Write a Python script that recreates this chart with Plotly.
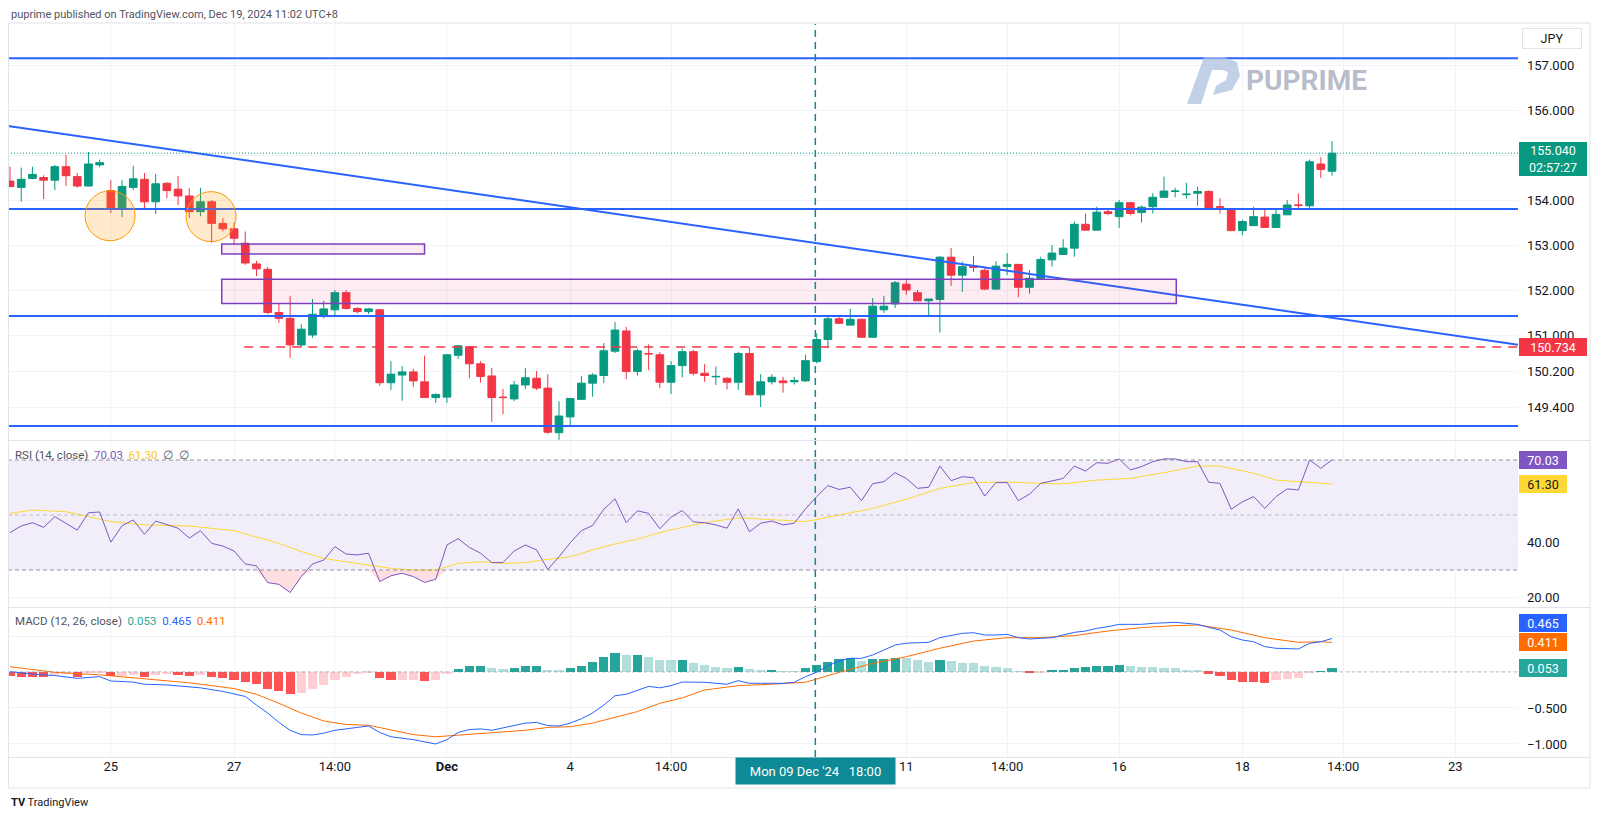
import plotly.graph_objects as go

# ---------------- data ----------------
opens = [154.42,154.28,154.48,154.50,154.44,154.74,154.52,154.31,154.78,154.21,
         153.80,154.28,154.46,153.96,154.37,154.24,154.09,153.74,153.96,153.48,
         153.36,153.04,152.58,152.46,151.50,151.37,150.78,151.00,151.44,151.56,
         151.94,151.59,151.52,151.56,149.94,150.11,150.18,149.96,149.61,149.62,
         150.55,150.74,150.36,150.09,149.62,149.58,149.89,150.04,149.82,148.83,
         149.18,149.57,149.93,150.10,150.64,151.09,150.19,150.59,150.56,149.95,
         150.32,150.63,150.15,150.07,150.04,149.95,150.59,149.67,149.96,149.98,
         149.96,149.98,150.41,150.90,151.36,151.22,151.35,150.95,151.56,151.69,
         152.13,151.94,151.76,151.79,152.73,152.33,152.53,152.44,152.02,152.52,
         152.57,152.06,152.26,152.67,152.79,152.93,153.46,153.33,153.74,153.63,
         153.94,153.72,153.85,154.06,154.19,154.12,154.15,154.19,153.85,153.78,
         153.32,153.43,153.62,153.39,153.67,153.89,153.87,154.80,154.64]
highs = [154.74,154.72,154.74,154.55,154.78,155.00,154.60,155.07,154.90,154.44,
         154.44,154.76,154.60,154.58,154.40,154.53,154.26,154.27,154.00,153.60,
         153.50,153.30,152.65,152.51,151.71,151.87,151.24,151.80,151.76,152.00,
         152.00,151.62,151.60,151.58,150.42,150.31,150.25,150.54,149.70,150.58,
         150.78,150.76,150.42,150.27,149.80,149.98,150.27,150.20,150.13,149.53,
         149.60,150.09,150.15,150.82,151.29,151.18,150.70,150.79,150.62,150.42,
         150.70,150.67,150.36,150.30,150.06,150.63,150.73,150.13,150.13,150.07,
         150.07,150.56,151.04,151.40,151.40,151.58,151.36,151.82,151.87,152.20,
         152.22,152.00,151.80,152.76,152.93,152.63,152.76,152.49,152.64,152.82,
         152.57,152.44,152.74,153.00,153.13,153.52,153.70,153.85,153.78,154.00,
         153.96,153.88,154.15,154.52,154.27,154.38,154.30,154.21,154.04,153.80,
         153.56,153.85,153.79,153.78,154.00,154.15,154.90,154.95,155.31]
lows = [154.28,153.96,154.46,154.02,154.22,154.31,154.27,154.31,154.73,153.71,
        153.62,154.22,153.82,153.69,154.04,153.89,153.60,153.64,153.05,153.30,
        153.00,152.56,152.31,151.46,151.27,150.49,150.73,150.94,151.37,151.44,
        151.56,151.48,151.47,149.87,149.78,149.54,149.85,149.61,149.49,149.49,
        150.47,150.04,149.94,149.07,149.24,149.53,149.80,149.78,148.80,148.67,
        149.00,149.55,149.63,149.93,150.60,150.02,150.10,150.22,149.82,149.69,
        150.06,150.10,149.96,149.89,149.79,149.78,149.67,149.40,149.90,149.72,
        149.90,149.96,150.37,150.72,151.24,151.22,150.94,150.94,151.49,151.60,
        151.89,151.75,151.44,151.05,152.09,151.96,152.40,152.00,152.00,152.33,
        151.84,151.92,152.26,152.52,152.79,152.74,153.33,153.33,153.66,153.38,
        153.66,153.50,153.70,154.06,154.06,154.03,153.87,153.78,153.70,153.31,
        153.22,153.43,153.39,153.39,153.67,153.80,153.78,154.49,154.54]
closes = [154.30,154.46,154.57,154.44,154.74,154.54,154.31,154.80,154.83,153.80,
          154.30,154.47,153.96,154.36,154.21,154.09,153.74,153.96,153.48,153.36,
          153.15,152.60,152.47,151.50,151.37,150.78,151.13,151.46,151.58,151.94,
          151.59,151.52,151.58,149.94,150.13,150.18,149.98,149.61,149.68,150.56,
          150.76,150.36,150.08,149.61,149.61,149.89,150.05,149.82,148.84,149.20,
          149.59,149.93,150.11,150.65,151.11,150.19,150.65,150.58,149.95,150.32,
          150.63,150.15,150.10,150.08,149.95,150.59,149.67,149.96,150.06,149.94,
          149.99,150.43,150.90,151.36,151.26,151.35,150.95,151.64,151.64,152.16,
          152.00,151.76,151.80,152.73,152.33,152.52,152.50,152.02,152.53,152.57,
          152.06,152.26,152.68,152.82,152.93,153.46,153.33,153.73,153.70,153.94,
          153.70,153.84,154.06,154.20,154.20,154.13,154.19,153.80,153.84,153.32,
          153.52,153.63,153.39,153.68,153.89,153.88,154.85,154.68,155.04]

rsi = [43.6,46.0,47.2,45.5,49.4,47.0,44.5,50.8,51.1,40.1,
       46.1,48.2,43.0,47.8,46.6,45.2,41.6,44.3,39.7,38.7,
       36.9,32.2,31.5,25.4,24.8,21.8,27.6,32.2,33.6,38.5,
       35.8,35.5,36.1,25.8,27.9,28.8,27.6,25.5,26.6,39.1,
       41.4,38.2,36.1,32.7,32.7,36.9,39.1,37.3,30.2,34.8,
       39.9,44.3,46.2,52.1,55.9,47.2,51.5,50.6,45.0,49.2,
       51.6,47.5,47.2,46.4,45.2,52.2,43.9,47.0,47.8,46.4,
       47.0,52.2,56.7,60.7,59.3,60.1,55.2,61.4,62.1,65.4,
       63.3,59.7,60.1,67.8,62.5,63.9,63.6,56.9,61.8,61.8,
       55.2,57.6,61.5,62.4,63.3,67.8,66.0,69.0,68.8,70.4,
       66.4,67.6,69.4,70.4,70.4,69.4,69.4,61.9,61.5,52.1,
       54.8,56.7,52.4,56.7,59.5,59.1,70.0,67.0,70.03]

rsi_ma_idx = [0,2,5,7,9,12,16,20,22,24,26,28,30,32,34,36,38,40,42,44,46,48,50,52,54,56,58,60,62,
              65,68,71,74,77,80,83,86,89,92,94,97,100,103,106,108,111,113,117,118]
rsi_ma_val = [50.6,51.8,51.2,49.4,47.6,46.4,46.0,44.3,42.1,39.7,36.7,34.2,33.0,31.8,30.6,30.0,30.0,
              32.4,33.0,32.4,32.7,33.9,34.8,37.3,39.5,41.2,43.6,45.5,47.2,
              49.0,48.2,47.6,50.0,52.4,55.7,59.7,61.8,62.0,61.5,61.3,62.7,63.3,65.4,67.8,67.8,65.2,62.7,61.5,61.30]

hist = [-0.05,-0.065,-0.066,-0.067,-0.04,-0.03,-0.065,-0.02,-0.018,-0.055,
        -0.054,-0.04,-0.065,-0.04,-0.03,-0.035,-0.055,-0.04,-0.065,-0.088,
        -0.11,-0.14,-0.17,-0.23,-0.26,-0.30,-0.29,-0.24,-0.18,-0.11,
        -0.065,-0.03,-0.01,-0.08,-0.11,-0.108,-0.105,-0.125,-0.11,-0.03,
        0.04,0.083,0.085,0.05,0.04,0.06,0.083,0.09,0.028,0.023,
        0.06,0.09,0.14,0.21,0.26,0.23,0.24,0.21,0.17,0.16,
        0.165,0.12,
        0.097,0.074,0.05,0.074,0.04,0.023,0.025,0.01,0.009,0.05,
        0.097,0.14,0.176,0.19,0.153,0.176,0.177,0.20,0.198,0.16,
        0.134,0.16,0.153,0.13,0.12,0.083,0.07,0.05,0.01,-0.01,
        -0.005,0.014,0.015,0.05,0.065,0.088,0.089,0.10,0.08,0.07,
        0.069,0.05,0.049,0.023,0.014,-0.023,-0.06,-0.116,-0.134,-0.135,
        -0.148,-0.116,-0.097,-0.088,-0.02,0.01,0.053]

macd_idx = [0,2,4,6,8,9,11,12,14,16,17,19,21,22,23,24,25,26,27,28,29,31,32,33,34,36,38,39,40,41,42,43,
            45,46,47,48,49,50,51,52,53,54,55,56,57,58,59,60,61] + list(range(62, 119))
macd_val = [0.005,-0.03,-0.05,-0.088,-0.065,-0.125,-0.14,-0.17,-0.18,-0.21,-0.22,-0.27,-0.34,-0.46,-0.57,
            -0.70,-0.81,-0.87,-0.875,-0.85,-0.81,-0.77,-0.75,-0.84,-0.90,-0.94,-1.0,-0.94,-0.84,-0.80,-0.79,-0.81,
            -0.74,-0.71,-0.70,-0.745,-0.75,-0.71,-0.65,-0.57,-0.46,-0.33,-0.31,-0.25,-0.20,-0.22,-0.19,-0.14,-0.14,
            -0.143,-0.157,-0.17,-0.12,-0.157,-0.157,-0.157,-0.157,-0.143,-0.065,-0.005,0.088,0.153,0.19,0.19,
            0.236,0.305,0.375,0.40,0.407,0.412,0.477,0.505,0.537,0.546,0.514,0.514,0.523,0.477,0.458,0.468,
            0.477,0.514,0.551,0.569,0.606,0.63,0.662,0.662,0.662,0.676,0.685,0.69,0.676,0.662,0.62,0.583,
            0.49,0.444,0.421,0.352,0.329,0.329,0.32,0.398,0.421,0.465]

signal_idx = [0,4,8,12,16,20,22,24,26,28,30,32,34,36,38,40,42,44,46,48,50,52,54,56,58,60,62,
              65,68,71,74,77,80,83,86,89,92,95,98,101,104,106,109,112,115,117,118]
signal_val = [0.074,-0.005,-0.04,-0.10,-0.15,-0.23,-0.31,-0.435,-0.57,-0.68,-0.73,-0.74,-0.81,-0.87,-0.90,
              -0.88,-0.85,-0.84,-0.81,-0.77,-0.76,-0.71,-0.63,-0.55,-0.435,-0.36,-0.25,
              -0.19,-0.17,-0.143,-0.005,0.12,0.213,0.33,0.43,0.477,0.477,0.505,0.57,0.616,0.644,0.653,
              0.583,0.477,0.412,0.421,0.411]

# horizontal levels, zones, trendline anchors, markers
h_levels = [157.15, 153.80, 151.42, 148.98]
support_dash = 150.734
support_dash_start = 20.9
last_price = 155.04
trend_idx = [0, 130]
trend_price = [155.64, 150.95]
zones = [(18.9, 37.0, 152.80, 153.02), (18.9, 104.1, 151.70, 152.24)]
circles = [(8.93, 153.65), (17.95, 153.63)]
cross_idx = 71.88

tick_idx = [9, 20, 29, 39, 50, 59, 80, 89, 99, 110, 119, 129]
tick_txt = ['25', '27', '14:00', '<b>Dec</b>', '4', '14:00', '11', '14:00', '16', '18', '14:00', '23']
price_ticks = [157, 156, 155, 154, 153, 152, 151, 150.2, 149.4]
price_hidden = [155]          # labels covered by the last-price box
rsi_ticks = [60, 40, 20]
rsi_hidden = [60]
macd_ticks = [0.5, 0, -0.5, -1.0]
macd_hidden = [0.5, 0]

# ---------------- layout geometry ----------------
# the html page has an 8px body margin; page coordinates = figure coordinates + 8
PAGE_OFF = 8
W, H = 1584, 803
ML, MR, MT, MB = 0, 74, 16, 54
PW, PH = W - ML - MR, H - MT - MB


def fx(px):  # page pixel -> paper x
    return (px - PAGE_OFF - ML) / PW


def fy(py):  # page pixel -> paper y
    return (H - MB - (py - PAGE_OFF)) / PH


UP, DOWN = '#089981', '#F23645'
BLUE = '#2962FF'
FONT = 'Roboto, Arial, sans-serif'
TXT = '#131722'
n = len(closes)
xs = list(range(n))

fig = go.Figure()

fig.add_trace(go.Candlestick(
    x=xs, open=opens, high=highs, low=lows, close=closes,
    increasing=dict(line=dict(color=UP, width=1), fillcolor=UP),
    decreasing=dict(line=dict(color=DOWN, width=1), fillcolor=DOWN),
    whiskerwidth=0, xaxis='x', yaxis='y', hoverinfo='skip'))

# RSI
rsi_lo = [min(v, 30) for v in rsi]
fig.add_trace(go.Scatter(x=xs, y=[30] * n, mode='lines', line=dict(width=0), xaxis='x', yaxis='y2',
                         hoverinfo='skip'))
fig.add_trace(go.Scatter(x=xs, y=rsi_lo, mode='lines', line=dict(width=0), fill='tonexty',
                         fillcolor='rgba(242,54,69,0.16)', xaxis='x', yaxis='y2', hoverinfo='skip'))
rsi_hi = [max(v, 70) for v in rsi]
fig.add_trace(go.Scatter(x=xs, y=[70] * n, mode='lines', line=dict(width=0), xaxis='x', yaxis='y2',
                         hoverinfo='skip'))
fig.add_trace(go.Scatter(x=xs, y=rsi_hi, mode='lines', line=dict(width=0), fill='tonexty',
                         fillcolor='rgba(8,153,129,0.16)', xaxis='x', yaxis='y2', hoverinfo='skip'))
fig.add_trace(go.Scatter(x=rsi_ma_idx, y=rsi_ma_val, mode='lines', line=dict(color='#FDD835', width=1),
                         xaxis='x', yaxis='y2', hoverinfo='skip'))
fig.add_trace(go.Scatter(x=xs, y=rsi, mode='lines', line=dict(color='#7E57C2', width=1),
                         xaxis='x', yaxis='y2', hoverinfo='skip'))

# MACD histogram colours (TradingView rule)
hcol = []
for i, v in enumerate(hist):
    prev = hist[i - 1] if i > 0 else v
    if v >= 0:
        hcol.append('#26A69A' if v >= prev else '#B2DFDB')
    else:
        hcol.append('#FFCDD2' if v >= prev and i > 0 else '#FF5252')
fig.add_trace(go.Bar(x=xs, y=hist, marker=dict(color=hcol, line=dict(width=0)), width=0.82,
                     xaxis='x', yaxis='y3', hoverinfo='skip'))
fig.add_trace(go.Scatter(x=signal_idx, y=signal_val, mode='lines', line=dict(color='#FF6D00', width=1),
                         xaxis='x', yaxis='y3', hoverinfo='skip'))
fig.add_trace(go.Scatter(x=macd_idx, y=macd_val, mode='lines', line=dict(color=BLUE, width=1),
                         xaxis='x', yaxis='y3', hoverinfo='skip'))

shapes = []
for lv in h_levels:
    shapes.append(dict(type='line', xref='x domain', yref='y', x0=0, x1=1, y0=lv, y1=lv,
                       line=dict(color=BLUE, width=2)))
xr = [-0.18, 134.6]
slope = (trend_price[1] - trend_price[0]) / (trend_idx[1] - trend_idx[0])
shapes.append(dict(type='line', xref='x', yref='y', x0=xr[0] - 1,
                   y0=trend_price[0] + slope * (xr[0] - 1 - trend_idx[0]),
                   x1=xr[1] + 1, y1=trend_price[0] + slope * (xr[1] + 1 - trend_idx[0]),
                   line=dict(color=BLUE, width=2)))
for (x0, x1, y0, y1) in zones:
    shapes.append(dict(type='rect', xref='x', yref='y', x0=x0, x1=x1, y0=y0, y1=y1,
                       fillcolor='rgba(233,30,99,0.08)', line=dict(color='#7E3FBF', width=1.5)))
rx, ry = 25 / 11.2, 25 / 45
for (cx, cy) in circles:
    shapes.append(dict(type='circle', xref='x', yref='y', x0=cx - rx, x1=cx + rx, y0=cy - ry, y1=cy + ry,
                       fillcolor='rgba(255,152,0,0.2)', line=dict(color='#FF9800', width=1)))
shapes.append(dict(type='line', xref='x', yref='y', x0=support_dash_start, x1=xr[1], y0=support_dash,
                   y1=support_dash, line=dict(color=DOWN, width=1.5, dash='9px,7px')))
shapes.append(dict(type='line', xref='x domain', yref='y', x0=0, x1=1, y0=last_price, y1=last_price,
                   line=dict(color=UP, width=1, dash='1px,2px')))
# RSI band
shapes.append(dict(type='rect', xref='x domain', yref='y2', x0=0, x1=1, y0=30, y1=70,
                   fillcolor='rgba(126,87,194,0.1)', line=dict(width=0), layer='below'))
for lv, op in [(70, 1), (50, 0.5), (30, 1)]:
    shapes.append(dict(type='line', xref='x domain', yref='y2', x0=0, x1=1, y0=lv, y1=lv,
                       line=dict(color='rgba(120,123,134,%s)' % (0.8 * op), width=1, dash='4px,3px')))
shapes.append(dict(type='line', xref='x domain', yref='y3', x0=0, x1=1, y0=0, y1=0,
                   line=dict(color='rgba(120,123,134,0.5)', width=1, dash='3px,3px')))
# crosshair
shapes.append(dict(type='line', xref='x', yref='paper', x0=cross_idx, x1=cross_idx, y0=0, y1=1,
                   line=dict(color='#0E8A97', width=1.5, dash='7px,5px')))
# frame & separators
BC = '#E0E3EB'
shapes.append(dict(type='rect', xref='paper', yref='paper', x0=fx(8.5), x1=fx(1590), y0=fy(788), y1=fy(23),
                   line=dict(color=BC, width=1), fillcolor='rgba(0,0,0,0)'))
for py in [440.5, 607.5, 757.5]:
    shapes.append(dict(type='line', xref='paper', yref='paper', x0=fx(8), x1=fx(1590), y0=fy(py), y1=fy(py),
                       line=dict(color=BC, width=1)))
# PUPRIME logo mark
logo_pts = [(1187, 104), (1201, 104), (1212, 70), (1222, 70), (1228, 72), (1226, 80), (1216, 86),
            (1213, 95), (1232, 90), (1240, 76), (1237, 62), (1224, 57), (1204, 57)]
path = 'M ' + ' L '.join('%.5f,%.5f' % (fx(a), fy(b)) for a, b in logo_pts) + ' Z'
shapes.append(dict(type='path', xref='paper', yref='paper', path=path,
                   fillcolor='rgba(170,190,222,0.7)', line=dict(width=0)))

ann = []


def box(text, yref, y, bg, fg='white', w=66, h=18, yshift=0, yanchor='middle', size=12.5):
    ann.append(dict(text=text, xref='paper', x=1.0, xanchor='left', xshift=1, yref=yref, y=y,
                    yanchor=yanchor, yshift=yshift, showarrow=False, bgcolor=bg, width=w, height=h,
                    borderpad=0, borderwidth=0, align='center',
                    font=dict(family=FONT, size=size, color=fg)))


box('155.040<br>02:57:27', 'y', last_price, UP, w=68, h=34, yshift=11, yanchor='top')
box('150.734', 'y', support_dash, DOWN, w=68, h=18)
box('70.03', 'y2', rsi[-1], '#7E57C2', w=48, h=18)
box('61.30', 'y2', rsi_ma_val[-1], '#FDD835', fg=TXT, w=48, h=18)
box('0.465', 'y3', macd_val[-1], BLUE, w=48, h=18, yshift=16)
box('0.411', 'y3', signal_val[-1], '#FF6D00', w=48, h=18)
box('0.053', 'y3', hist[-1], '#26A69A', w=48, h=18)

ann.append(dict(text='JPY', xref='paper', yref='paper', x=fx(1552), y=fy(39), xanchor='center',
                yanchor='middle', showarrow=False,
                font=dict(family=FONT, size=12.5, color=TXT), bordercolor=BC, borderwidth=1,
                width=56, height=17, bgcolor='white'))
ann.append(dict(text="Mon 09 Dec '24&nbsp;&nbsp;&nbsp;18:00", xref='x', x=cross_idx, xanchor='center',
                yref='paper', y=0, yanchor='top', showarrow=False, bgcolor='#0E8A97', width=159, height=26,
                borderpad=0, font=dict(family=FONT, size=13, color='white')))
ann.append(dict(text="RSI (14, close)&nbsp; <span style='color:#7E57C2'>70.03</span>&nbsp; "
                     "<span style='color:#F9C80E'>61.30</span>&nbsp; ∅&nbsp; ∅",
                xref='paper', yref='paper', x=fx(13), y=fy(455), xanchor='left', yanchor='middle',
                showarrow=False, font=dict(family=FONT, size=11.5, color='#50535E')))
ann.append(dict(text="MACD (12, 26, close)&nbsp; <span style='color:#26A69A'>0.053</span>&nbsp; "
                     "<span style='color:#2962FF'>0.465</span>&nbsp; <span style='color:#FF6D00'>0.411</span>",
                xref='paper', yref='paper', x=fx(13), y=fy(621), xanchor='left', yanchor='middle',
                showarrow=False, font=dict(family=FONT, size=11.5, color='#50535E')))
ann.append(dict(text='puprime published on TradingView.com, Dec 19, 2024 11:02 UTC+8',
                xref='paper', yref='paper', x=fx(9), y=fy(15), xanchor='left', yanchor='middle',
                showarrow=False, font=dict(family=FONT, size=11, color='#50535E')))
ann.append(dict(text="<b>TV</b> TradingView", xref='paper', yref='paper', x=fx(9), y=fy(803),
                xanchor='left', yanchor='middle', showarrow=False,
                font=dict(family=FONT, size=11, color=TXT)))
ann.append(dict(text='<b>PUPRIME</b>', xref='paper', yref='paper', x=fx(1306), y=fy(80),
                xanchor='center', yanchor='middle', showarrow=False,
                font=dict(family=FONT, size=28, color='rgba(160,168,186,0.75)')))


def labels(vals, hidden, fmt):
    out = []
    for v in vals:
        out.append('' if v in hidden else (fmt % v).replace('-', '\u2212'))
    return out


axis_common = dict(anchor='x', side='right', showgrid=True, gridcolor='#F0F3FA', zeroline=False,
                   ticks='', ticklabelstandoff=8, tickfont=dict(family=FONT, size=13, color=TXT))

fig.update_layout(
    width=W, height=H, margin=dict(l=ML, r=MR, t=MT, b=MB),
    paper_bgcolor='white', plot_bgcolor='white', showlegend=False, hovermode=False,
    boxgap=0.02, boxgroupgap=0.3, bargap=0,
    shapes=shapes, annotations=ann,
    font=dict(family=FONT, size=13, color=TXT),
    xaxis=dict(domain=[0, 1], anchor='y3', range=xr, tickvals=tick_idx, ticktext=tick_txt,
               showgrid=True, gridcolor='#F0F3FA', zeroline=False, showline=False, ticks='',
               tickfont=dict(family=FONT, size=13, color=TXT), rangeslider=dict(visible=False)),
    yaxis=dict(domain=[fy(440), 1], range=[148.667, 157.911], tickvals=price_ticks,
               ticktext=labels(price_ticks, price_hidden, '%.3f'), **axis_common),
    yaxis2=dict(domain=[fy(606), fy(441)], range=[16.91, 76.91], tickvals=rsi_ticks,
                ticktext=labels(rsi_ticks, rsi_hidden, '%.2f'), **axis_common),
    yaxis3=dict(domain=[0, fy(608)], range=[-1.181, 0.889], tickvals=macd_ticks,
                ticktext=labels(macd_ticks, macd_hidden, '%.3f'), **axis_common),
)

fig.write_html('out.html')
